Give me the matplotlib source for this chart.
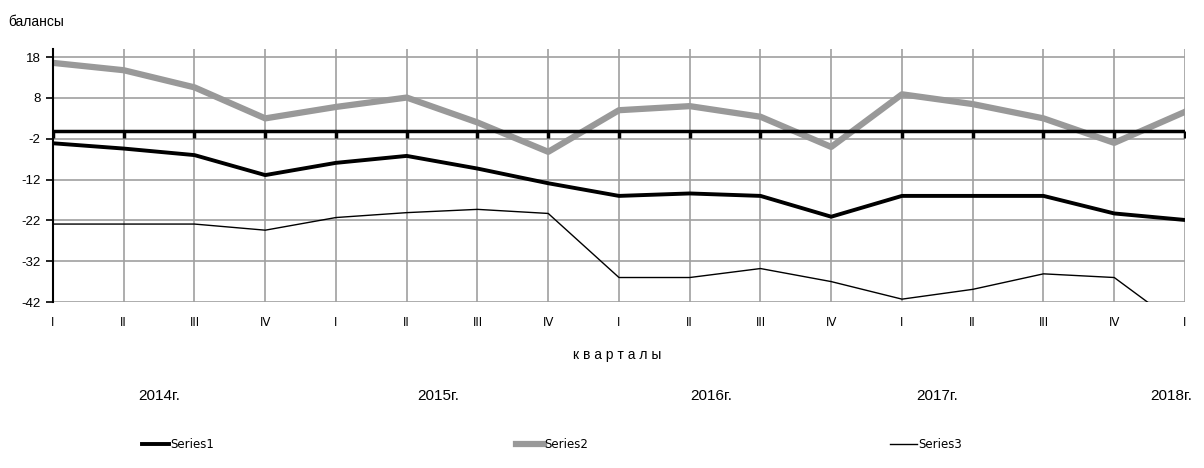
import matplotlib
matplotlib.use('Agg')
import matplotlib.pyplot as plt
from matplotlib.lines import Line2D
import matplotlib.transforms as mtransforms

plt.rcParams['font.family'] = ['Liberation Sans', 'DejaVu Sans']

# --- data ---
quarters = ['I', 'II', 'III', 'IV', 'I', 'II', 'III', 'IV', 'I', 'II', 'III', 'IV',
            'I', 'II', 'III', 'IV', 'I']
years = ['2014г.', '2015г.', '2016г.', '2017г.', '2018г.']
year_pos = [1.5, 5.45, 9.3, 12.5, 15.8]

series1 = [-3.1, -4.4, -6.0, -10.9, -7.9, -6.2, -9.3, -12.9, -16.0, -15.4, -16.0,
           -21.1, -16.0, -16.0, -16.0, -20.3, -21.9]
series2 = [16.6, 14.8, 10.6, 3.0, 5.8, 8.1, 2.0, -5.2, 5.0, 6.0, 3.4,
           -4.0, 8.9, 6.5, 3.0, -3.0, 4.6]
series3 = [-22.9, -22.9, -22.9, -24.4, -21.3, -20.1, -19.3, -20.3, -36.0, -36.0, -33.8,
           -37.0, -41.3, -38.9, -35.1, -36.0, -48.8]
yticks = [18, 8, -2, -12, -22, -32, -42]

x = list(range(len(quarters)))

fig = plt.figure(figsize=(12.04, 4.68), dpi=100)
ax = fig.add_axes([0.044, 0.3547, 0.9402, 0.5406])

ax.set_xlim(0, len(quarters) - 1)
ax.set_ylim(-42, 20)

# grid
for xi in x:
    ax.axvline(xi, color='#a0a0a0', linewidth=1.2, zorder=1)
for yt in yticks:
    ax.axhline(yt, color='#a0a0a0', linewidth=1.2, zorder=1)

# category axis crossing at zero, tick marks pointing down
ax.axhline(0, color='black', linewidth=2.5, zorder=4)
ax.plot(x, [0] * len(x), linestyle='none', marker=3, markersize=5,
        markeredgewidth=2.5, color='black', zorder=4)

ax.plot(x, series2, color='#999999', linewidth=4.5, zorder=3)
ax.plot(x, series1, color='black', linewidth=2.8, zorder=5)
ax.plot(x, series3, color='black', linewidth=1.0, zorder=5)

for s in ['top', 'right', 'bottom']:
    ax.spines[s].set_visible(False)
ax.spines['left'].set_linewidth(1.5)
ax.spines['left'].set_zorder(6)

ax.set_yticks(yticks)
ax.set_yticklabels([str(v) for v in yticks], fontsize=9.5)
ax.tick_params(axis='y', length=5, width=1.2, pad=4)
ax.set_xticks(x)
ax.set_xticklabels(quarters, fontsize=8.5, family=['Liberation Sans Narrow', 'DejaVu Sans'])
ax.tick_params(axis='x', length=0, pad=10)

trans = mtransforms.blended_transform_factory(ax.transData, ax.transAxes)
for yr, xp in zip(years, year_pos):
    ax.text(xp, -0.37, yr, transform=trans, ha='center', va='center', fontsize=11)

fig.text(0.513, 0.242, 'к в а р т а л ы', ha='center', va='center', fontsize=10)
fig.text(0.007, 0.953, 'балансы', ha='left', va='center', fontsize=10)

# legend, three separate entries spread across the bottom
handles = [Line2D([], [], color='black', linewidth=2.8),
           Line2D([], [], color='#999999', linewidth=4.5),
           Line2D([], [], color='black', linewidth=1.0)]
labels = ['Series1', 'Series2', 'Series3']
legend_x = [0.113, 0.424, 0.734]
for h, lab, lx in zip(handles, labels, legend_x):
    fig.legend([h], [lab], loc='center left', bbox_to_anchor=(lx, 0.05),
               frameon=False, handlelength=2.3, handletextpad=0.1, borderpad=0,
               prop={'size': 8.5, 'family': ['Liberation Sans Narrow', 'DejaVu Sans']})

fig.savefig('out.png', dpi=100, facecolor='white')
